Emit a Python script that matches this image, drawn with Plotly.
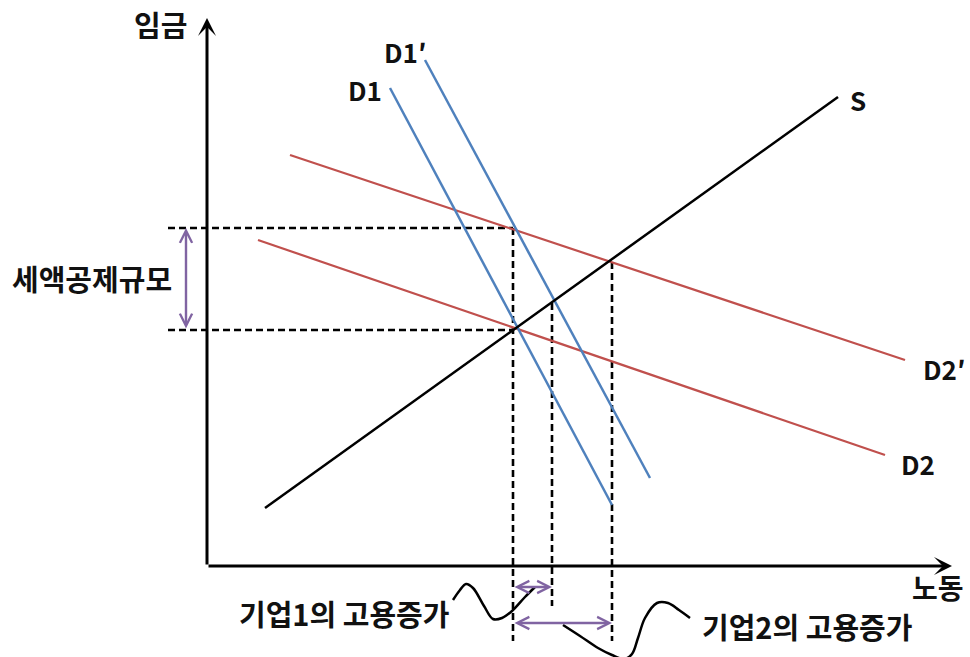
import plotly.graph_objects as go

# Coordinates: x = 노동 (labour), y = 임금 (wage); origin at the axes corner.
AXIS_X_END = 745
AXIS_Y_END = 548

# Curve endpoints (x pairs, y pairs)
S_x, S_y = [58, 631], [58, 469]
D1_x, D1_y = [183, 405], [478, 61]
D1p_x, D1p_y = [218, 443], [506, 88]
D2_x, D2_y = [51, 678], [326, 111]
D2p_x, D2p_y = [83, 698], [411, 206]

# Equilibrium quantities and wages
Q0, Q1, Q2 = 306, 345, 405
W_low, W_high = 236, 338
W_Q1, W_Q2 = 263, 304          # wages where the verticals at Q1 and Q2 start
DASH_LEFT = -39                # left end of the horizontal guides
DASH_BOTTOM_LONG, DASH_BOTTOM_SHORT = -75, -40

# Bracket arrows
TAX_ARROW_X = -21
EMP1_ARROW_Y = -21
EMP2_ARROW_Y = -57

# Connector squiggles from the labels to the brackets
curve1_x = [246, 253, 259, 266, 277, 286, 295, 305, 318, 328]
curve1_y = [-34, -24, -18, -22, -40, -53, -52, -45, -31, -21]
curve2_x = [356, 373, 391, 405, 417, 425, 431, 438, 450, 461, 472, 483]
curve2_y = [-59, -70, -82, -89, -93, -88, -72, -52, -37, -37, -44, -52]

# Text labels
labels = ["임금", "D1′", "D1", "S", "D2′", "D2", "세액공제규모",
          "기업1의 고용증가", "기업2의 고용증가", "노동"]
label_x = [-47, 198, 158, 651, 737, 711, -115, 137, 600, 731]
label_y = [542, 515, 477, 467, 198, 103, 288, -47, -60, -21]
label_size = [29, 26, 26, 26, 26, 26, 29, 29, 29, 28]

BLUE = "#4F81BD"
RED = "#C0504D"
PURPLE = "#8064A2"
FONT = "Noto Sans CJK KR"

fig = go.Figure()


def add_line(xs, ys, color, width, dash=None, shape="linear"):
    fig.add_trace(go.Scatter(
        x=xs, y=ys, mode="lines", hoverinfo="skip", showlegend=False,
        line=dict(color=color, width=width, dash=dash, shape=shape, smoothing=1.0),
    ))


# Dashed guides
dash = "7px,4px"
add_line([DASH_LEFT, Q0], [W_high, W_high], "black", 2.6, dash)
add_line([DASH_LEFT, Q0], [W_low, W_low], "black", 2.6, dash)
add_line([Q0, Q0], [W_high, DASH_BOTTOM_LONG], "black", 2.6, dash)
add_line([Q1, Q1], [W_Q1, DASH_BOTTOM_SHORT], "black", 2.6, dash)
add_line([Q2, Q2], [W_Q2, DASH_BOTTOM_LONG], "black", 2.6, dash)

# Supply and demand curves
add_line(D2_x, D2_y, RED, 2.2)
add_line(D2p_x, D2p_y, RED, 2.2)
add_line(D1_x, D1_y, BLUE, 2.5)
add_line(D1p_x, D1p_y, BLUE, 2.5)
add_line(S_x, S_y, "black", 2.5)

# Squiggly connectors
add_line(curve1_x, curve1_y, "black", 2.5, shape="spline")
add_line(curve2_x, curve2_y, "black", 2.5, shape="spline")

annotations = []

# Axes with arrowheads
for (x, y) in [(AXIS_X_END, 0), (0, AXIS_Y_END)]:
    annotations.append(dict(
        x=x, y=y, ax=0, ay=0, xref="x", yref="y", axref="x", ayref="y",
        text="", showarrow=True, arrowhead=3, arrowsize=1, arrowwidth=3,
        arrowcolor="black",
    ))

# Double-headed purple brackets
for (x0, y0, x1, y1) in [
    (TAX_ARROW_X, W_low, TAX_ARROW_X, W_high),
    (Q0, EMP1_ARROW_Y, Q1, EMP1_ARROW_Y),
    (Q0, EMP2_ARROW_Y, Q2, EMP2_ARROW_Y),
]:
    annotations.append(dict(
        x=x1, y=y1, ax=x0, ay=y0, xref="x", yref="y", axref="x", ayref="y",
        text="", showarrow=True, arrowside="end+start",
        arrowhead=5, startarrowhead=5, arrowsize=1, startarrowsize=1,
        arrowwidth=2.4, arrowcolor=PURPLE,
    ))

for t, x, y, s in zip(labels, label_x, label_y, label_size):
    annotations.append(dict(
        x=x, y=y, xref="x", yref="y", text=t, showarrow=False,
        xanchor="center", yanchor="middle",
        font=dict(family=FONT, size=s, color="#111111", weight="bold"),
    ))

fig.update_layout(
    width=970, height=657,
    margin=dict(l=0, r=0, t=0, b=0),
    paper_bgcolor="white", plot_bgcolor="white",
    xaxis=dict(range=[-207, 763], visible=False, fixedrange=True),
    yaxis=dict(range=[-91, 566], visible=False, fixedrange=True),
    annotations=annotations,
    showlegend=False,
)

fig.write_html("out.html")
